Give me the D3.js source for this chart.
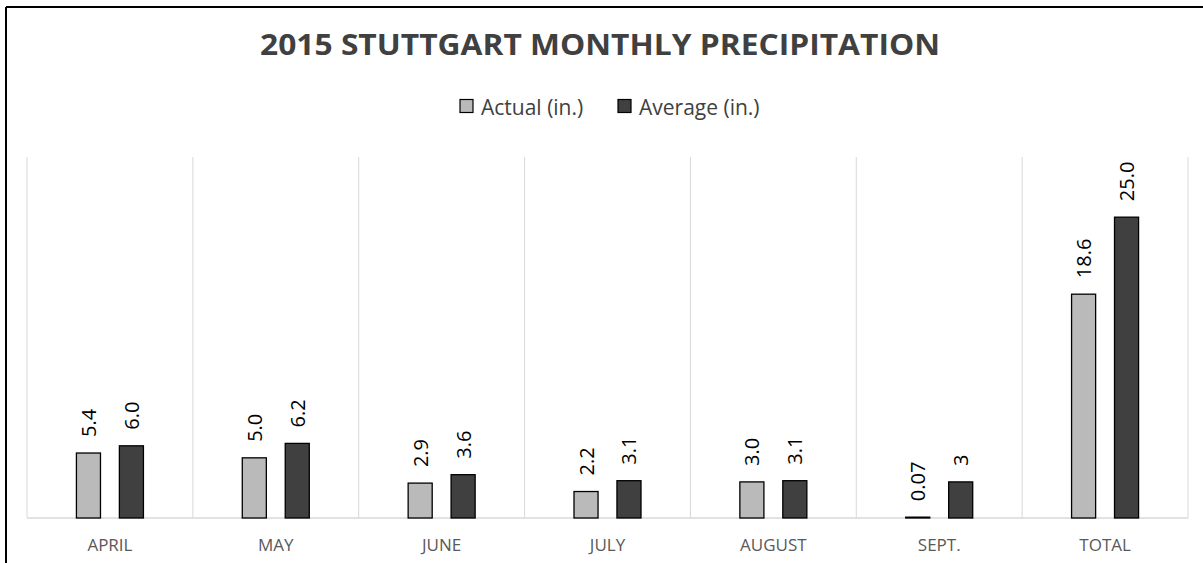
<!DOCTYPE html>
<html>
<head>
<meta charset="utf-8">
<script src="https://cdn.jsdelivr.net/npm/d3@7"></script>
<style>
  html, body { margin: 0; padding: 0; background: #fff; }
  svg { display: block; font-family: "Open Sans", "Noto Sans", sans-serif; }
</style>
</head>
<body>
<div id="chart"></div>
<script>
'use strict';

const chartTitle = '2015 STUTTGART MONTHLY PRECIPITATION';
const months = ['APRIL', 'MAY', 'JUNE', 'JULY', 'AUGUST', 'SEPT.', 'TOTAL'];
const seriesNames = ['Actual (in.)', 'Average (in.)'];
const actualValues = [5.4, 5.0, 2.9, 2.2, 3.0, 0.07, 18.6];
const averageValues = [6.0, 6.2, 3.6, 3.1, 3.1, 3, 25.0];
const actualLabels = ['5.4', '5.0', '2.9', '2.2', '3.0', '0.07', '18.6'];
const averageLabels = ['6.0', '6.2', '3.6', '3.1', '3.1', '3', '25.0'];

const width = 1203;
const height = 563;
const margin = {top: 157, right: 15, bottom: 45, left: 27};
const innerW = width - margin.left - margin.right;
const innerH = height - margin.top - margin.bottom;
const colors = ['#bababa', '#404040'];

const svg = d3.select('#chart').append('svg')
    .attr('width', width)
    .attr('height', height);

// outer frame (top + left only visible)
svg.append('line').attr('x1', 6).attr('x2', width).attr('y1', 7).attr('y2', 7)
    .attr('stroke', '#000').attr('stroke-width', 2);
svg.append('line').attr('x1', 6).attr('x2', 6).attr('y1', 7).attr('y2', height)
    .attr('stroke', '#000').attr('stroke-width', 2);

// title
svg.append('text')
    .attr('x', 600).attr('y', 55)
    .attr('text-anchor', 'middle')
    .attr('fill', '#404040')
    .attr('font-size', 28)
    .attr('font-weight', 700)
    .attr('textLength', 680)
    .attr('lengthAdjust', 'spacingAndGlyphs')
    .text(chartTitle);

// legend
const legendX = [460, 618];
const legend = svg.append('g');
seriesNames.forEach((name, i) => {
    legend.append('rect')
        .attr('x', legendX[i]).attr('y', 99.5)
        .attr('width', 13).attr('height', 13)
        .attr('fill', colors[i])
        .attr('stroke', '#000').attr('stroke-width', 1.2);
    legend.append('text')
        .attr('x', legendX[i] + 21).attr('y', 115)
        .attr('fill', '#404040')
        .attr('font-size', 21)
        .text(name);
});

const g = svg.append('g')
    .attr('transform', 'translate(' + margin.left + ',' + margin.top + ')');

const x = d3.scaleBand().domain(months).range([0, innerW]);
const x1 = d3.scaleBand().domain([0, 1])
    .range([x.bandwidth() / 2 - 33.5, x.bandwidth() / 2 + 33.5])
    .paddingInner(0.44).paddingOuter(0);
const y = d3.scaleLinear().domain([0, 30]).range([innerH, 0]);

// category dividers
g.selectAll('.divider')
    .data(d3.range(months.length + 1))
    .join('line')
    .attr('class', 'divider')
    .attr('x1', d => d * x.step()).attr('x2', d => d * x.step())
    .attr('y1', 0).attr('y2', innerH)
    .attr('stroke', '#d9d9d9').attr('stroke-width', 1);

// baseline
g.append('line')
    .attr('x1', 0).attr('x2', innerW)
    .attr('y1', innerH).attr('y2', innerH)
    .attr('stroke', '#d9d9d9').attr('stroke-width', 1.5);

const series = [actualValues, averageValues];
const labels = [actualLabels, averageLabels];

series.forEach((vals, s) => {
    const grp = g.append('g');
    grp.selectAll('rect')
        .data(vals)
        .join('rect')
        .attr('x', (d, i) => x(months[i]) + x1(s))
        .attr('y', d => y(d))
        .attr('width', x1.bandwidth())
        .attr('height', d => innerH - y(d))
        .attr('fill', colors[s])
        .attr('stroke', '#000').attr('stroke-width', 1.3);

    grp.selectAll('text')
        .data(vals)
        .join('text')
        .attr('transform', (d, i) => {
            const cx = x(months[i]) + x1(s) + x1.bandwidth() / 2;
            return 'translate(' + cx + ',' + (y(d) - 16) + ') rotate(-90)';
        })
        .attr('dominant-baseline', 'central')
        .attr('fill', '#000')
        .attr('font-size', 20)
        .text((d, i) => labels[s][i]);
});

// x axis labels
const xAxis = d3.axisBottom(x).tickSize(0).tickPadding(21);
const axisG = g.append('g')
    .attr('transform', 'translate(0,' + innerH + ')')
    .call(xAxis);
axisG.select('.domain').remove();
axisG.selectAll('text')
    .attr('fill', '#595959')
    .attr('font-size', 17)
    .attr('font-family', '"Open Sans", "Noto Sans", sans-serif');
</script>
</body>
</html>
